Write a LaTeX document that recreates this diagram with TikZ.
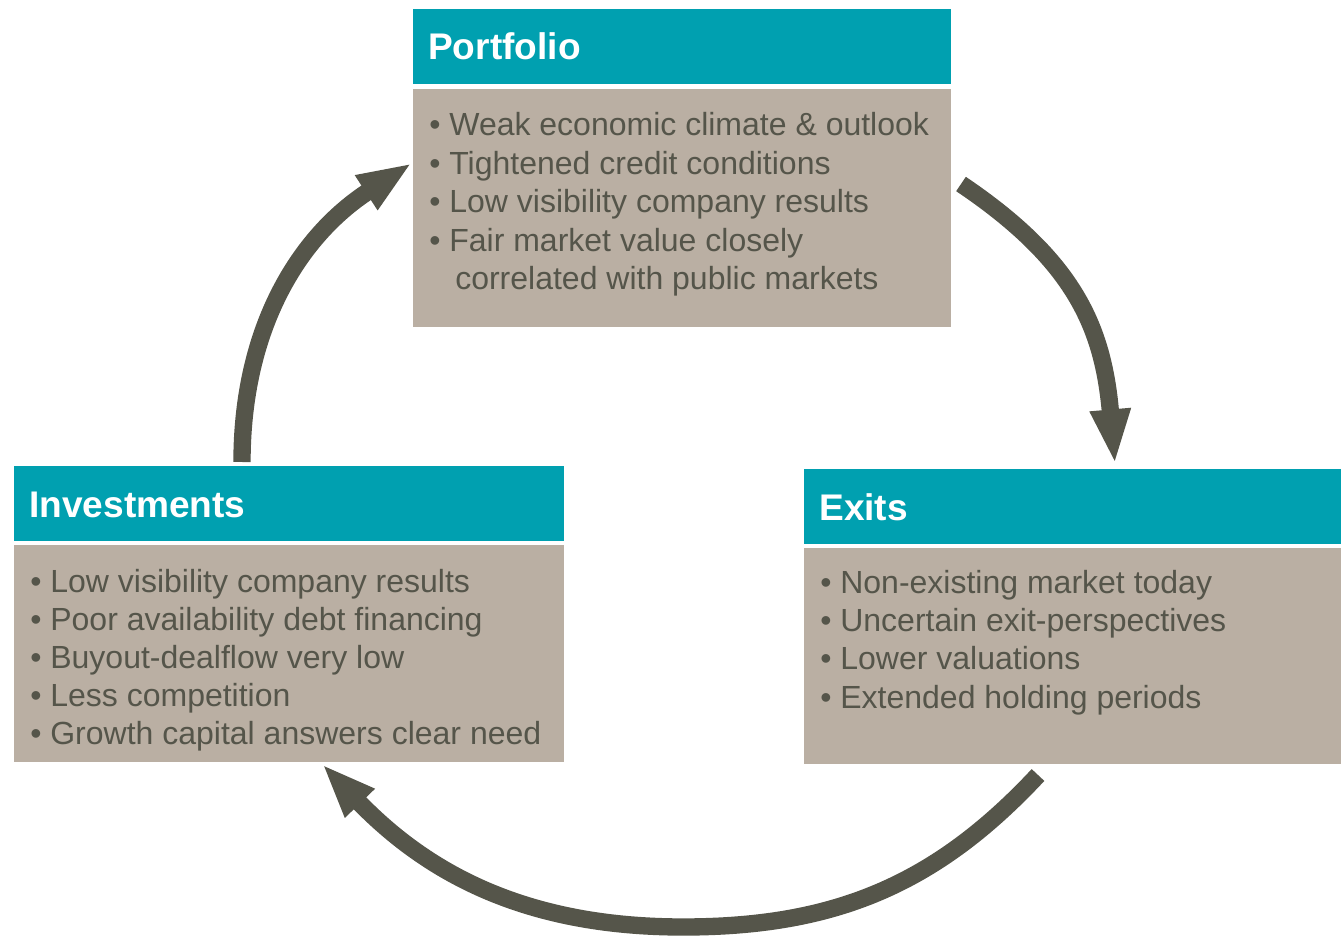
\documentclass[tikz,border=0pt]{standalone}
\usepackage{fontspec}
\setmainfont{Liberation Sans}
\usetikzlibrary{arrows.meta,fit}
\definecolor{headteal}{RGB}{0,160,176}
\definecolor{bodytaupe}{RGB}{186,175,163}
\definecolor{darkolive}{RGB}{85,85,74}
\tikzset{
	headbox/.style={fill=headteal, inner sep=0pt},
	bodybox/.style={fill=bodytaupe, inner sep=0pt},
	headtext/.style={anchor=base west, inner sep=0pt, text=white, font=\fontsize{27.8}{33}\selectfont\bfseries},
	itemtext/.style={anchor=base west, inner sep=0pt, text=darkolive, font=\fontsize{24}{28.9}\selectfont},
	cyclearrow/.style={draw=darkolive, line width=13pt, -{Triangle[width=28pt,length=41pt]}}
}

\begin{document}
\begin{tikzpicture}[x=0.75pt, y=0.75pt]
			%%%%% FRAME %%%%%
			\useasboundingbox (0, 0) rectangle (1341, 936);
			
			%%%%% BOXES %%%%%
			\node[headbox, fit={(413, 852) (951, 927)}] (porthead) {};
			\node[bodybox, fit={(413, 609) (951, 847)}] (portbody) {};
			
			\node[headbox, fit={(14, 395) (564, 470)}] (invhead) {};
			\node[bodybox, fit={(14, 174) (564, 391)}] (invbody) {};
			
			\node[headbox, fit={(804, 392) (1341, 467)}] (exithead) {};
			\node[bodybox, fit={(804, 172) (1341, 388)}] (exitbody) {};
			
			%%%%% HEADINGS %%%%%
			\node[headtext] (porttitle) at (428, 876) {Portfolio};
			\node[headtext] (invtitle) at (29, 418) {Investments};
			\node[headtext] (exittitle) at (819, 416) {Exits};
			
			%%%%% ITEMS %%%%%
			\foreach \txt [count=\i from 0] in {Weak economic climate \& outlook, Tightened credit conditions, Low visibility company results, Fair market value closely}
				\node[itemtext] (port\i) at (429, 800-\i*38.5) {• \txt};
			\node[itemtext] (port4) at (455, 646) {correlated with public markets};
			
			\foreach \txt [count=\i from 0] in {Low visibility company results, Poor availability debt financing, Buyout-dealflow very low, Less competition, Growth capital answers clear need}
				\node[itemtext] (inv\i) at (30, 344-\i*38.2) {• \txt};
			
			\foreach \txt [count=\i from 0] in {Non-existing market today, Uncertain exit-perspectives, Lower valuations, Extended holding periods}
				\node[itemtext] (exit\i) at (820, 343-\i*38.4) {• \txt};
			
			%%%%% ARROWS %%%%%
			\coordinate (invout) at (242, 474);
			\coordinate (portin) at (412, 773);
			\coordinate (portout) at (961, 752);
			\coordinate (exitin) at (1115, 472);
			\coordinate (exitout) at (1038, 161);
			\coordinate (bottom) at (683, 9);
			\coordinate (invin) at (322, 172);
			
			\draw[cyclearrow] (invout) to[out=90, in=213] (portin);
			\draw[cyclearrow] (portout) to[out=-34, in=95, looseness=1.1] (exitin);
			\draw[cyclearrow] (exitout) to[out=227, in=0] (bottom) to[out=180, in=314] (invin);
			
		\end{tikzpicture}
\end{document}
